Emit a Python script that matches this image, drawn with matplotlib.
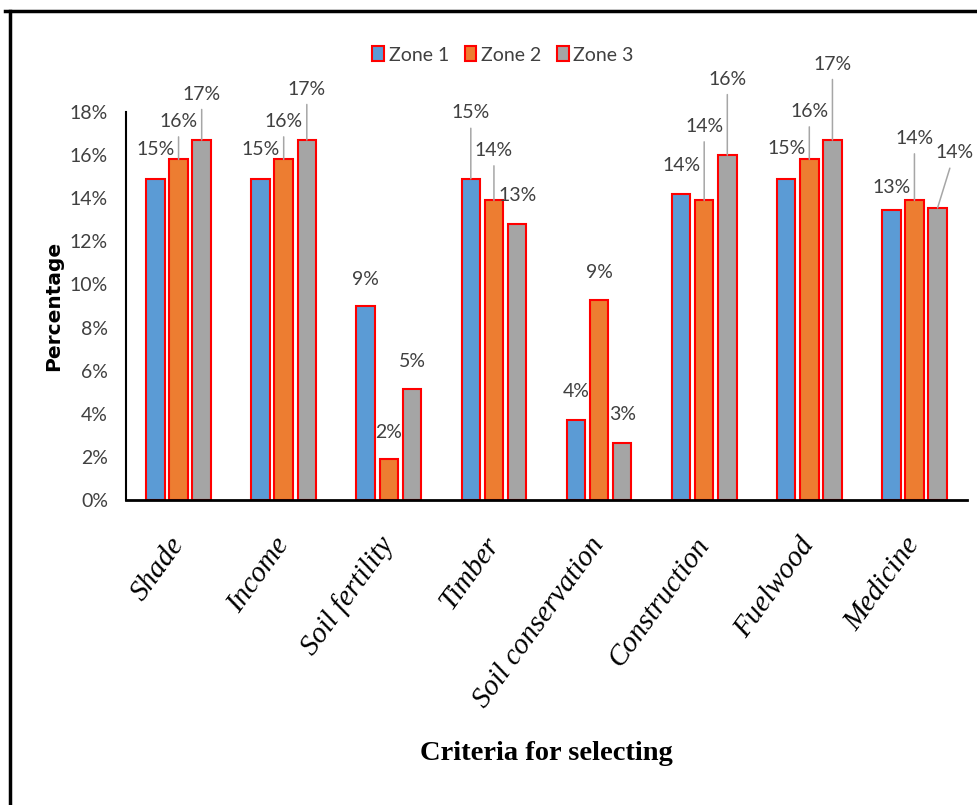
import numpy as np
import matplotlib
matplotlib.use("Agg")
import matplotlib.pyplot as plt
from matplotlib.lines import Line2D

# data (percent)
categories = ["Shade", "Income", "Soil fertility", "Timber", "Soil conservation",
              "Construction", "Fuelwood", "Medicine"]
zone1 = [14.9, 14.9, 9.0, 14.9, 3.7, 14.2, 14.9, 13.45]
zone2 = [15.8, 15.8, 1.9, 13.9, 9.3, 13.9, 15.8, 13.9]
zone3 = [16.7, 16.7, 5.15, 12.8, 2.65, 16.0, 16.7, 13.55]
series_names = ["Zone 1", "Zone 2", "Zone 3"]
yticks = [0, 2, 4, 6, 8, 10, 12, 14, 16, 18]

# label placement (pixel offsets from bar top)
label_offsets = [
    [(0, 29), (0, 29), (0, 27), (0, 66), (0, 29), (0, 28), (0, 30), (0, 23)],
    [(0, 38), (0, 38), (0, 27), (0, 50), (0, 27), (0, 74), (0, 48), (0, 62)],
    [(0, 46), (0, 51), (0, 27), (1, 29), (0, 28), (0, 76), (0, 76), (17, 55)],
]
colors = ["#5B9BD5", "#ED7D31", "#A5A5A5"]
narrow = ["Lato", "DejaVu Sans"]
txt_color = "#404040"

fig = plt.figure(figsize=(9.78, 8.05), dpi=100)
ax = fig.add_axes([126 / 978, 1 - 500 / 805, (967 - 126) / 978, 388 / 805])

x = np.arange(len(categories))
offsets = [-0.22, 0.0, 0.22]
bars = []
for i, vals in enumerate([zone1, zone2, zone3]):
    b = ax.bar(x + offsets[i], vals, width=0.175, color=colors[i],
               edgecolor="#FF0000", linewidth=1.5, label=series_names[i], zorder=2)
    bars.append(b)
    for j, v in enumerate(vals):
        dx, dy = label_offsets[i][j]
        arrow = None
        if dy > 35:
            arrow = dict(arrowstyle="-", color="#a6a6a6", lw=1.1,
                         shrinkA=3, shrinkB=0)
        ax.annotate(f"{round(v)}%", xy=(x[j] + offsets[i], v),
                    xytext=(dx, dy), textcoords="offset pixels",
                    ha="center", va="center", fontsize=14, family=narrow,
                    color=txt_color, arrowprops=arrow, zorder=3)

ax.set_xlim(-0.5, len(categories) - 0.5)
ax.set_ylim(0, 18)
ax.set_yticks(yticks)
ax.set_yticklabels([f"{t}%" for t in yticks], family=narrow, fontsize=14,
                   color=txt_color)
ax.tick_params(axis="y", length=0, pad=13)
ax.set_xticks(x)
ax.set_xticklabels(categories, rotation=54, ha="right", va="center",
                   rotation_mode="anchor", family="Liberation Serif",
                   style="italic", fontsize=21)
ax.tick_params(axis="x", length=0, pad=29)

for s in ["top", "right"]:
    ax.spines[s].set_visible(False)
ax.spines["left"].set_linewidth(1.5)
ax.spines["bottom"].set_linewidth(2)

ax.set_ylabel("Percentage", fontsize=14.5, fontweight="bold", family="DejaVu Sans")
ax.yaxis.set_label_coords(-0.075, 0.5)
ax.set_xlabel("Criteria for selecting", fontsize=20.5, fontweight="bold",
              family="Liberation Serif", va="top")
ax.xaxis.set_label_coords(0.5, -0.62)

fig.legend(handles=bars, labels=series_names, loc="center",
           bbox_to_anchor=(503 / 978, 1 - 55 / 805), ncol=3, frameon=False,
           prop={"family": narrow, "size": 14}, handlelength=0.6,
           handleheight=0.8, handletextpad=0.25, columnspacing=0.8,
           labelcolor=txt_color)

# outer frame (top and left edge only visible)
fig.add_artist(Line2D([5 / 978, 1], [1 - 11 / 805, 1 - 11 / 805],
                      transform=fig.transFigure, color="black", lw=2.5))
fig.add_artist(Line2D([10 / 978, 10 / 978], [0, 1 - 11 / 805],
                      transform=fig.transFigure, color="black", lw=2.5))

fig.savefig("out.png", dpi=100)
